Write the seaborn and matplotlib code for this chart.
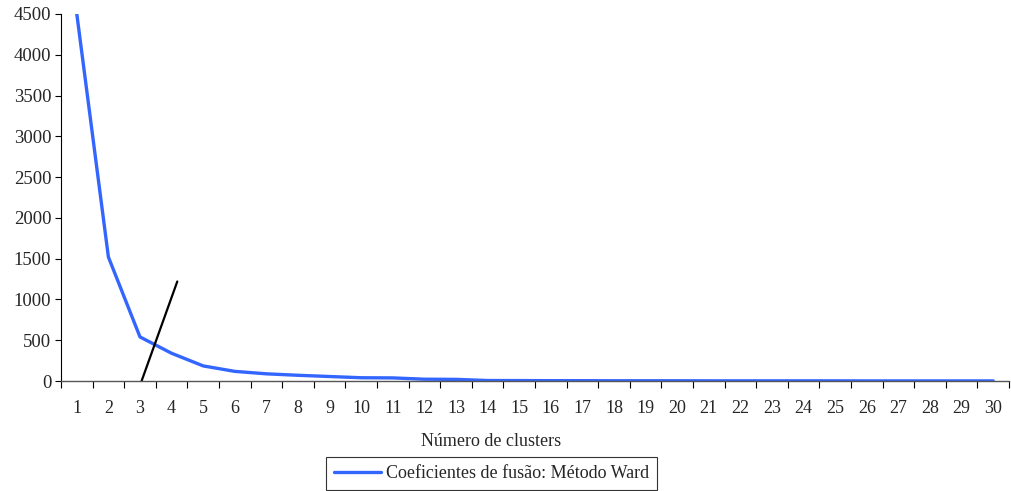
import numpy as np
import pandas as pd
import matplotlib
matplotlib.use("Agg")
import matplotlib.pyplot as plt
import seaborn as sns

clusters = list(range(1, 31))
coef = [4500, 1520, 540, 340, 185, 118, 88, 70, 55, 40, 38, 22, 20, 6, 5, 4, 4, 3, 3, 3,
        2, 2, 2, 2, 2, 1, 1, 1, 1, 1]
elbow_x = [3.05, 4.18]
elbow_y = [0, 1220]
series_name = "Coeficientes de fusão: Método Ward"

sns.set_style("white")
plt.rcParams['font.family'] = ['Liberation Serif', 'DejaVu Serif']

df = pd.DataFrame({"Número de clusters": clusters, "coef": coef})

fig = plt.figure(figsize=(10.11, 4.91), dpi=100)
ax = fig.add_axes([61/1011, 1-381/491, (1009-61)/1011, (381-14)/491])

sns.lineplot(data=df, x="Número de clusters", y="coef", ax=ax, color="#3366FF",
             linewidth=2.4, label=series_name, legend=False)
ax.plot(elbow_x, elbow_y, color="black", linewidth=1.6)

ax.set_xlim(0.5, 30.5)
ax.set_ylim(0, 4500)
ax.set_yticks(np.arange(0, 4501, 500))
ax.set_xticks(clusters)
ax.set_xticklabels([str(c) for c in clusters])
ax.set_xticks(np.arange(0.5, 31, 1), minor=True)
ax.tick_params(bottom=True, left=True, which='both')
ax.tick_params(axis='x', which='major', length=0, pad=14, labelsize=13)
ax.tick_params(axis='x', which='minor', length=5, width=0.8, color='black', direction='out')
ax.tick_params(axis='y', which='major', length=4, width=0.8, color='black', direction='out', labelsize=13.5, pad=3)
ax.tick_params(axis='y', which='minor', length=0)
ax.set_xlabel("")
ax.set_ylabel("")
for s in ["top", "right"]:
    ax.spines[s].set_visible(False)
ax.spines["left"].set_color("black")
ax.spines["left"].set_linewidth(0.8)
ax.spines["bottom"].set_color("#555555")
ax.spines["bottom"].set_linewidth(1.0)

fig.text(491/1011, 1-442/491, "Número de clusters", ha="center", va="center", fontsize=13)

handles, labels = ax.get_legend_handles_labels()
leg = fig.legend(handles, labels, loc="center", bbox_to_anchor=(491.5/1011, 1-473.5/491),
                 frameon=True, fancybox=False, edgecolor="black", fontsize=13,
                 handlelength=2.6, handletextpad=0.25, borderpad=0.45, borderaxespad=0)
leg.get_frame().set_linewidth(0.8)

fig.savefig("out.png", dpi=100)
